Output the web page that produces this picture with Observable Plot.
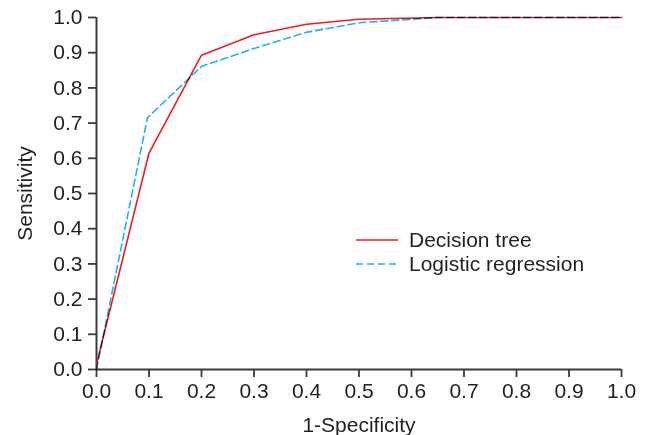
<!DOCTYPE html>
<html>
<head>
<meta charset="utf-8">
<script src="https://cdn.jsdelivr.net/npm/d3@7"></script>
<script src="https://cdn.jsdelivr.net/npm/@observablehq/plot@0.6"></script>
<style>
  html, body { margin: 0; padding: 0; background: #fff; }
  #wrap { position: relative; width: 647px; height: 435px; overflow: hidden; font-family: "Liberation Sans", Arial, sans-serif; }
  #legend { position: absolute; left: 356px; top: 228px; font-size: 21px; color: #231f20; }
  .row { display: flex; align-items: center; height: 24px; }
  .row svg { width: 42px; height: 6px; margin-right: 11px; }
</style>
</head>
<body>
<div id="wrap"></div>
<script>
const series = ["Decision tree", "Logistic regression"];
const colors = ["#ed1c24", "#1fb4ea"];
const dtFpr = [0.0, 0.1, 0.2, 0.3, 0.4, 0.5, 0.65, 1.0];
const dtTpr = [0.015, 0.615, 0.893, 0.951, 0.981, 0.995, 1.0, 1.0];
const lrFpr = [0.0, 0.097, 0.2, 0.3, 0.4, 0.5, 0.6, 0.65, 1.0];
const lrTpr = [0.0, 0.715, 0.861, 0.912, 0.958, 0.985, 0.995, 1.0, 1.0];
const ticks = [0, 0.1, 0.2, 0.3, 0.4, 0.5, 0.6, 0.7, 0.8, 0.9, 1.0];
const xLabel = "1-Specificity";
const yLabel = "Sensitivity";

const dt = dtFpr.map((x, i) => ({x, y: dtTpr[i]}));
const lr = lrFpr.map((x, i) => ({x, y: lrTpr[i]}));

const axisColor = "#3a3a3a";
const chart = Plot.plot({
  width: 647,
  height: 435,
  marginLeft: 96,
  marginRight: 26,
  marginTop: 17,
  marginBottom: 66,
  style: {fontFamily: "'Liberation Sans', Arial, sans-serif", fontSize: "21px", color: "#231f20", background: "#fff"},
  x: {domain: [0, 1]},
  y: {domain: [0, 1]},
  marks: [
    Plot.axisX({ticks, tickFormat: d => d.toFixed(1), tickSize: 8, tickPadding: 6, stroke: axisColor, strokeWidth: 1.8, label: xLabel, labelArrow: "none", labelAnchor: "center", labelOffset: 62}),
    Plot.axisY({ticks, tickFormat: d => d.toFixed(1), tickSize: 8, tickPadding: 6, stroke: axisColor, strokeWidth: 1.8, label: yLabel, labelArrow: "none", labelAnchor: "center", labelOffset: 79}),
    Plot.ruleY([0], {stroke: axisColor, strokeWidth: 2}),
    Plot.ruleX([0], {stroke: axisColor, strokeWidth: 2}),
    Plot.line(dt, {x: "x", y: "y", stroke: colors[0], strokeWidth: 1.6}),
    Plot.line(lr, {x: "x", y: "y", stroke: colors[1], strokeWidth: 1.6, strokeDasharray: "7,4", mixBlendMode: "multiply"})
  ]
});
const wrap = document.getElementById("wrap");
wrap.appendChild(chart);

const legend = document.createElement("div");
legend.id = "legend";
series.forEach((s, i) => {
  const row = document.createElement("div");
  row.className = "row";
  row.innerHTML = `<svg><line x1="0" x2="42" y1="3" y2="3" stroke="${colors[i]}" stroke-width="1.6" ${i === 1 ? 'stroke-dasharray="7,4"' : ''}/></svg><span>${s}</span>`;
  legend.appendChild(row);
});
wrap.appendChild(legend);
</script>
</body>
</html>
